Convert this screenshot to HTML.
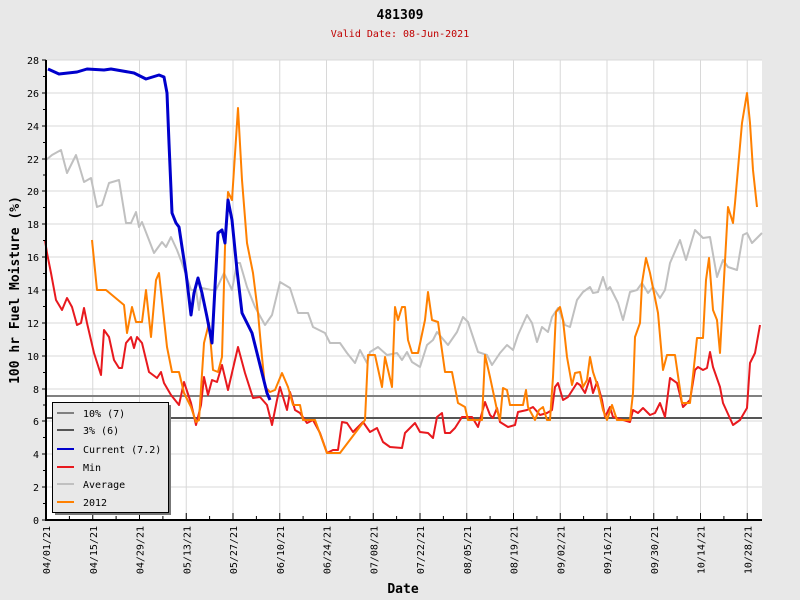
<!DOCTYPE html>
<html><head><meta charset="utf-8"><style>
html,body{margin:0;padding:0;background:#e8e8e8;}
svg{display:block;font-family:"DejaVu Sans Mono","Liberation Mono",monospace;}
</style></head><body>
<svg width="800" height="600" viewBox="0 0 800 600" xmlns="http://www.w3.org/2000/svg">
<rect width="800" height="600" fill="#e8e8e8"/>
<text x="400" y="19" text-anchor="middle" font-size="13" font-weight="bold" fill="#000">481309</text>
<text x="400" y="37" text-anchor="middle" font-size="10" fill="#c00000">Valid Date: 08-Jun-2021</text>
<rect x="46" y="60" width="716" height="460" fill="#fff"/>
<g stroke="#d8d8d8" stroke-width="1">
<line x1="46" x2="762" y1="93" y2="93"/><line x1="46" x2="762" y1="126" y2="126"/><line x1="46" x2="762" y1="159" y2="159"/><line x1="46" x2="762" y1="191" y2="191"/><line x1="46" x2="762" y1="224" y2="224"/><line x1="46" x2="762" y1="257" y2="257"/><line x1="46" x2="762" y1="290" y2="290"/><line x1="46" x2="762" y1="323" y2="323"/><line x1="46" x2="762" y1="356" y2="356"/><line x1="46" x2="762" y1="389" y2="389"/><line x1="46" x2="762" y1="421" y2="421"/><line x1="46" x2="762" y1="454" y2="454"/><line x1="46" x2="762" y1="487" y2="487"/><line x1="46" x2="762" y1="60" y2="60"/>
<line y1="60" y2="520" x1="92.75" x2="92.75"/><line y1="60" y2="520" x1="139.5" x2="139.5"/><line y1="60" y2="520" x1="186.25" x2="186.25"/><line y1="60" y2="520" x1="233" x2="233"/><line y1="60" y2="520" x1="279.75" x2="279.75"/><line y1="60" y2="520" x1="326.5" x2="326.5"/><line y1="60" y2="520" x1="373.25" x2="373.25"/><line y1="60" y2="520" x1="420" x2="420"/><line y1="60" y2="520" x1="466.75" x2="466.75"/><line y1="60" y2="520" x1="513.5" x2="513.5"/><line y1="60" y2="520" x1="560.25" x2="560.25"/><line y1="60" y2="520" x1="607" x2="607"/><line y1="60" y2="520" x1="653.75" x2="653.75"/><line y1="60" y2="520" x1="700.5" x2="700.5"/><line y1="60" y2="520" x1="747.25" x2="747.25"/>
</g>
<line x1="46" x2="762" y1="396" y2="396" stroke="#808080" stroke-width="2"/>
<line x1="46" x2="762" y1="418" y2="418" stroke="#555" stroke-width="2"/>
<g fill="none" stroke-linejoin="round">
<polyline stroke="#c0c0c0" stroke-width="2" points="46,160 52,155 61,150 67,173 76,155 84,182 91,178 97,207 102,205 109,183 119,180 126,223 131,223 136,212 139,227 142,222 154,253 162,242 166,247 171,237 177,250 182,263 191,290 196,290 199,310 202,288 211,290 216,290 224,273 232,290 237,263 240,263 247,287 255,307 265,325 272,315 280,282 290,288 298,313 308,313 313,327 325,333 330,343 340,343 347,353 355,363 360,350 367,363 370,352 378,347 387,355 397,353 402,360 407,352 412,362 420,367 427,345 433,340 437,332 448,345 457,332 463,317 468,322 478,352 487,355 492,365 500,353 507,345 513,350 518,335 527,315 532,323 537,342 542,327 548,332 552,317 558,308 565,325 570,327 577,300 583,292 590,287 593,293 598,292 603,277 607,290 610,287 618,303 623,320 630,292 637,290 642,283 648,293 653,287 660,298 665,290 670,263 680,240 686,260 695,230 703,238 710,237 717,277 723,260 728,267 737,270 743,235 747,233 752,243 762,233"/>
<polyline stroke="#e8191e" stroke-width="2" points="45,240 47,253 51,273 56,300 62,310 67,298 72,307 77,325 81,323 84,308 87,323 94,353 101,375 104,330 109,337 114,360 119,368 122,368 126,343 131,337 134,348 137,337 142,343 149,372 157,378 161,372 164,383 171,395 179,405 184,382 191,403 196,425 201,405 204,377 208,395 212,380 217,382 222,365 228,390 238,347 245,373 253,398 260,397 267,405 272,425 277,400 280,387 287,410 290,392 295,410 300,413 307,423 313,420 320,433 327,453 333,450 338,450 342,422 347,423 353,432 363,422 370,432 377,428 383,442 390,447 402,448 405,433 415,423 420,432 428,433 433,438 437,417 442,413 445,433 450,433 455,428 462,417 472,417 478,427 485,402 490,415 493,418 497,408 500,422 508,427 515,425 518,412 527,410 533,407 540,415 547,413 552,410 555,387 558,383 563,400 568,397 577,383 580,385 585,393 590,378 593,393 597,382 602,400 605,417 610,407 613,417 630,422 633,410 638,413 643,408 650,415 655,413 660,403 665,417 670,378 677,383 680,395 683,407 690,400 695,370 698,367 703,370 707,368 710,352 713,367 720,387 723,403 733,425 740,420 747,408 750,363 755,353 760,325"/>
<polyline stroke="#ff8000" stroke-width="2" points="92,240 97,290 106,290 124,305 127,333 132,307 136,322 142,322 146,290 151,337 156,280 159,273 167,347 172,372 179,372 184,393 191,407 196,422 199,420 204,343 209,323 213,370 218,372 222,357 225,247 228,192 232,200 238,108 242,180 247,243 253,273 258,313 262,357 265,387 270,392 275,390 282,373 288,387 293,405 300,405 303,420 315,420 327,453 340,453 365,420 368,355 375,355 382,387 385,357 392,387 395,307 398,320 402,307 405,307 408,340 412,353 418,353 425,320 428,292 432,320 438,322 445,372 452,372 458,403 465,407 468,420 482,420 485,355 490,377 497,410 500,420 503,388 507,390 510,405 523,405 526,390 528,407 535,420 539,410 543,407 547,420 550,420 553,377 556,312 560,307 563,320 567,357 572,385 575,373 580,372 583,387 587,380 590,357 593,372 598,387 603,410 607,420 612,405 617,420 630,420 633,393 635,337 640,323 642,283 646,258 650,273 658,313 663,370 667,355 675,355 682,403 690,403 695,357 697,338 703,338 706,280 709,258 713,310 717,320 720,353 723,297 728,207 733,223 735,203 742,123 747,93 750,123 753,170 757,207"/>
<polyline stroke="#0000cc" stroke-width="3" points="48,69 59,74 77,72 87,69 104,70 111,69 134,73 146,79 159,75 164,77 167,93 169,143 172,213 176,223 179,227 182,247 186,273 191,315 194,293 198,278 202,293 207,317 212,343 215,287 218,233 222,230 225,243 228,200 232,220 237,270 242,313 252,333 258,357 262,373 267,393 270,400"/>
</g>
<line x1="46" x2="46" y1="60" y2="521" stroke="#000" stroke-width="2"/>
<line x1="45" x2="762" y1="520" y2="520" stroke="#000" stroke-width="2"/>
<g stroke="#000" stroke-width="1">
<path d="M42 60H46M42 93H46M42 126H46M42 159H46M42 191H46M42 224H46M42 257H46M42 290H46M42 323H46M42 356H46M42 389H46M42 421H46M42 454H46M42 487H46M42 520H46M43 76.5H46M43 109.5H46M43 142.5H46M43 175H46M43 207.5H46M43 240.5H46M43 273.5H46M43 306.5H46M43 339.5H46M43 372.5H46M43 405H46M43 437.5H46M43 470.5H46M43 503.5H46"/>
<path d="M46.5 513V520M92.75 513V520M139.5 513V520M186.25 513V520M233 513V520M279.75 513V520M326.5 513V520M373.25 513V520M420 513V520M466.75 513V520M513.5 513V520M560.25 513V520M607 513V520M653.75 513V520M700.5 513V520M747.25 513V520M69.4 516V520M116.1 516V520M162.9 516V520M209.6 516V520M256.4 516V520M303.1 516V520M349.9 516V520M396.6 516V520M443.4 516V520M490.1 516V520M536.9 516V520M583.6 516V520M630.4 516V520M677.1 516V520M723.9 516V520"/>
</g>
<g font-size="10" fill="#000" text-anchor="end">
<text x="39" y="64">28</text><text x="39" y="97">26</text><text x="39" y="130">24</text><text x="39" y="163">22</text><text x="39" y="195">20</text><text x="39" y="228">18</text><text x="39" y="261">16</text><text x="39" y="294">14</text><text x="39" y="327">12</text><text x="39" y="360">10</text><text x="39" y="393">8</text><text x="39" y="425">6</text><text x="39" y="458">4</text><text x="39" y="491">2</text><text x="39" y="524">0</text>
</g>
<g font-size="10" fill="#000" text-anchor="end">
<text transform="translate(50,526) rotate(-90)">04/01/21</text>
<text transform="translate(96.75,526) rotate(-90)">04/15/21</text>
<text transform="translate(143.5,526) rotate(-90)">04/29/21</text>
<text transform="translate(190.25,526) rotate(-90)">05/13/21</text>
<text transform="translate(237,526) rotate(-90)">05/27/21</text>
<text transform="translate(283.75,526) rotate(-90)">06/10/21</text>
<text transform="translate(330.5,526) rotate(-90)">06/24/21</text>
<text transform="translate(377.25,526) rotate(-90)">07/08/21</text>
<text transform="translate(424,526) rotate(-90)">07/22/21</text>
<text transform="translate(470.75,526) rotate(-90)">08/05/21</text>
<text transform="translate(517.5,526) rotate(-90)">08/19/21</text>
<text transform="translate(564.25,526) rotate(-90)">09/02/21</text>
<text transform="translate(611,526) rotate(-90)">09/16/21</text>
<text transform="translate(657.75,526) rotate(-90)">09/30/21</text>
<text transform="translate(704.5,526) rotate(-90)">10/14/21</text>
<text transform="translate(751.25,526) rotate(-90)">10/28/21</text>
</g>
<text x="403" y="593" text-anchor="middle" font-size="13" font-weight="bold">Date</text>
<text transform="translate(19,290) rotate(-90)" text-anchor="middle" font-size="13" font-weight="bold">100 hr Fuel Moisture (%)</text>
<rect x="55" y="405" width="116" height="110" fill="#777"/>
<rect x="52.5" y="402.5" width="116" height="110" fill="#e8e8e8" stroke="#000" stroke-width="1"/>
<g stroke-width="2">
<line x1="57" x2="74" y1="413" y2="413" stroke="#808080"/>
<line x1="57" x2="74" y1="430" y2="430" stroke="#555"/>
<line x1="57" x2="74" y1="449" y2="449" stroke="#0000cc"/>
<line x1="57" x2="74" y1="467" y2="467" stroke="#e8191e"/>
<line x1="57" x2="74" y1="484" y2="484" stroke="#c0c0c0"/>
<line x1="57" x2="74" y1="502" y2="502" stroke="#ff8000"/>
</g>
<g font-size="10" fill="#000">
<text x="83" y="417">10% (7)</text>
<text x="83" y="434">3% (6)</text>
<text x="83" y="453">Current (7.2)</text>
<text x="83" y="471">Min</text>
<text x="83" y="488">Average</text>
<text x="83" y="506">2012</text>
</g>
</svg>
</body></html>
